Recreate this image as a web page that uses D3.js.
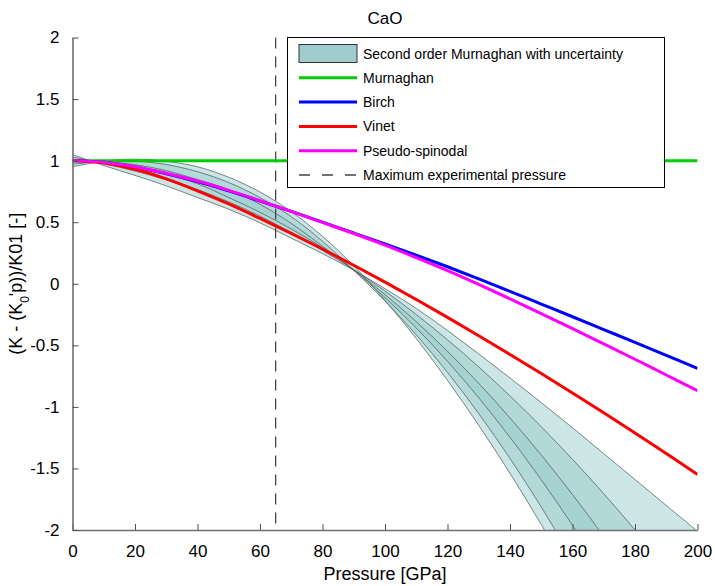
<!DOCTYPE html>
<meta charset="utf-8">
<script src="https://cdn.jsdelivr.net/npm/d3@7"></script>
<style>
  body { margin: 0; background: #fff; }
  text { font-family: "Liberation Sans", Arial, sans-serif; fill: #000; }
</style>
<body>
<script>

// pressure grid [GPa]
var pressure = [0, 10, 20, 30, 40, 50, 60, 70, 80, 90, 100, 110, 120, 130, 140, 150, 160, 170, 180, 190, 200];

// normalised (K - K0'p)/K01
var murnaghan = [1, 1, 1, 1, 1, 1, 1, 1, 1, 1, 1, 1, 1, 1, 1, 1, 1, 1, 1, 1, 1];
var birch     = [1.0, 0.986, 0.948, 0.894, 0.830, 0.754, 0.672, 0.588, 0.500, 0.412, 0.323, 0.232, 0.138, 0.040, -0.062, -0.165, -0.268, -0.372, -0.476, -0.581, -0.687];
var vinet     = [1.0, 0.980, 0.930, 0.852, 0.755, 0.648, 0.531, 0.409, 0.282, 0.150, 0.013, -0.128, -0.273, -0.422, -0.574, -0.729, -0.887, -1.048, -1.212, -1.379, -1.549];
var spinodal  = [1.0, 0.987, 0.951, 0.898, 0.834, 0.758, 0.674, 0.588, 0.498, 0.408, 0.314, 0.212, 0.106, -0.006, -0.122, -0.242, -0.364, -0.488, -0.613, -0.741, -0.869];

// uncertainty band edges (second order Murnaghan)
var outerHi = [1.05, 0.96, 0.88, 0.795, 0.70, 0.605, 0.495, 0.37, 0.245, 0.11, -0.04, -0.2, -0.38, -0.57, -0.765, -0.965, -1.17, -1.38, -1.59, -1.80, -2.01];
var outerLo = [0.95, 0.995, 1.012, 0.995, 0.95, 0.865, 0.745, 0.585, 0.385, 0.145, -0.135, -0.445, -0.785, -1.15, -1.54, -1.955, -2.39, -2.85, -3.33, -3.83, -4.35];
var midHi   = [1.03, 0.975, 0.915, 0.845, 0.765, 0.665, 0.55, 0.415, 0.27, 0.115, -0.059, -0.25, -0.455, -0.676, -0.911, -1.161, -1.426, -1.705, -2.0, -2.31, -2.634];
var midLo   = [0.97, 0.994, 0.996, 0.968, 0.91, 0.822, 0.70, 0.545, 0.345, 0.11, -0.141, -0.415, -0.72, -1.055, -1.419, -1.813, -2.237, -2.69, -3.174, -3.687, -4.23];
var innerHi = [1.01, 0.991, 0.951, 0.892, 0.812, 0.70, 0.58, 0.445, 0.293, 0.112, -0.088, -0.308, -0.549, -0.809, -1.09, -1.391, -1.712, -2.052, -2.413, -2.795, -3.196];
var innerLo = [0.99, 0.991, 0.967, 0.919, 0.846, 0.765, 0.645, 0.49, 0.305, 0.109, -0.113, -0.359, -0.63, -0.926, -1.247, -1.592, -1.962, -2.356, -2.776, -3.22, -3.689];

var maxExpPressure = 65;

var xTicks = [0, 20, 40, 60, 80, 100, 120, 140, 160, 180, 200];
var yTicks = [-2, -1.5, -1, -0.5, 0, 0.5, 1, 1.5, 2];

var legendNames = ["Second order Murnaghan with uncertainty", "Murnaghan", "Birch", "Vinet", "Pseudo-spinodal", "Maximum experimental pressure"];

var W = 715, H = 586;
var m = { left: 72.5, right: 697.5, top: 37.5, bottom: 530 };

var svg = d3.select("body").append("svg")
    .attr("width", W)
    .attr("height", H);

var x = d3.scaleLinear().domain([0, 200]).range([m.left, m.right]);
var y = d3.scaleLinear().domain([-2, 2]).range([m.bottom, m.top]);

svg.append("clipPath").attr("id", "plotclip")
  .append("rect")
    .attr("x", m.left).attr("y", m.top)
    .attr("width", m.right - m.left).attr("height", m.bottom - m.top);

var plot = svg.append("g").attr("clip-path", "url(#plotclip)");

// bands
var bands = [[outerHi, outerLo], [midHi, midLo], [innerHi, innerLo]];
var bandColor = "#99cccc";

bands.forEach(function(b) {
  var area = d3.area()
      .x(function(d, i) { return x(pressure[i]); })
      .y0(function(d, i) { return y(b[0][i]); })
      .y1(function(d, i) { return y(b[1][i]); })
      .curve(d3.curveCatmullRom);
  plot.append("path")
      .attr("d", area(pressure))
      .style("fill", bandColor)
      .style("fill-opacity", 0.5)
      .style("stroke", "none");
});

bands.forEach(function(b) {
  b.forEach(function(edge) {
    var ln = d3.line()
        .x(function(d, i) { return x(pressure[i]); })
        .y(function(d) { return y(d); })
        .curve(d3.curveCatmullRom);
    plot.append("path")
        .attr("d", ln(edge))
        .style("fill", "none")
        .style("stroke", "#4a5a5a")
        .style("stroke-opacity", 0.8)
        .style("stroke-width", 0.9);
  });
});

// dashed max pressure line
plot.append("line")
    .attr("x1", x(maxExpPressure)).attr("x2", x(maxExpPressure))
    .attr("y1", y(2)).attr("y2", y(-2))
    .style("stroke", "#444")
    .style("stroke-width", 1.3)
    .style("stroke-dasharray", "11,8");

var series = [
  { values: murnaghan, color: "#00cc00" },
  { values: birch, color: "#0000ff" },
  { values: vinet, color: "#ff0000" },
  { values: spinodal, color: "#ff00ff" }
];

series.forEach(function(s) {
  var ln = d3.line()
      .x(function(d, i) { return x(pressure[i]); })
      .y(function(d) { return y(d); })
      .curve(d3.curveCatmullRom);
  plot.append("path")
      .attr("d", ln(s.values))
      .style("fill", "none")
      .style("stroke", s.color)
      .style("stroke-width", 3);
});

// axes
var xAxis = svg.append("g")
    .attr("transform", "translate(0," + m.bottom + ")")
    .call(d3.axisBottom(x).tickValues(xTicks).tickSize(-6).tickSizeOuter(0).tickPadding(15)
          .tickFormat(function(d) { return String(d); }));
var yAxis = svg.append("g")
    .attr("transform", "translate(" + m.left + ",0)")
    .call(d3.axisLeft(y).tickValues(yTicks).tickSize(-6).tickSizeOuter(0).tickPadding(13)
          .tickFormat(function(d) { return String(d); }));

[xAxis, yAxis].forEach(function(a) {
  a.select(".domain").style("stroke", "#707070").style("stroke-width", 1.6);
  a.selectAll(".tick line").style("stroke", "#505050").style("stroke-width", 1);
  a.selectAll(".tick text")
      .style("font-family", "Liberation Sans, Arial, sans-serif")
      .style("font-size", "17px")
      .style("fill", "#000");
});

// labels
svg.append("text")
    .attr("x", (m.left + m.right) / 2).attr("y", 24)
    .attr("text-anchor", "middle")
    .style("font-size", "17px")
    .text("CaO");

svg.append("text")
    .attr("x", (m.left + m.right) / 2).attr("y", 580)
    .attr("text-anchor", "middle")
    .style("font-size", "18px")
    .text("Pressure [GPa]");

var yl = svg.append("text")
    .attr("transform", "translate(22," + ((m.top + m.bottom) / 2) + ") rotate(-90)")
    .attr("text-anchor", "middle")
    .style("font-size", "18px");
yl.append("tspan").text("(K - (K");
yl.append("tspan").attr("baseline-shift", "sub").style("font-size", "12px").text("0");
yl.append("tspan").text("'p))/K01 [-]");

// legend
var lg = svg.append("g");
lg.append("rect")
    .attr("x", 287.5).attr("y", 37.5)
    .attr("width", 377).attr("height", 150)
    .style("fill", "#fff")
    .style("stroke", "#000")
    .style("stroke-width", 1);

var rowY = d3.scaleLinear().domain([0, 5]).range([53.5, 175]);

legendNames.forEach(function(name, i) {
  var cy = rowY(i);
  if (i === 0) {
    lg.append("rect")
        .attr("x", 299).attr("y", cy - 9)
        .attr("width", 58).attr("height", 18)
        .style("fill", "#9fcdcd")
        .style("stroke", "#333")
        .style("stroke-width", 1);
  } else if (i === 5) {
    lg.append("line")
        .attr("x1", 299).attr("x2", 357).attr("y1", cy).attr("y2", cy)
        .style("stroke", "#444")
        .style("stroke-width", 1.3)
        .style("stroke-dasharray", "11,12");
  } else {
    lg.append("line")
        .attr("x1", 299).attr("x2", 357).attr("y1", cy).attr("y2", cy)
        .style("stroke", series[i - 1].color)
        .style("stroke-width", 3);
  }
  lg.append("text")
      .attr("x", 363).attr("y", cy)
      .attr("dy", "0.36em")
      .style("font-size", "14px")
      .text(name);
});

</script>
</body>
